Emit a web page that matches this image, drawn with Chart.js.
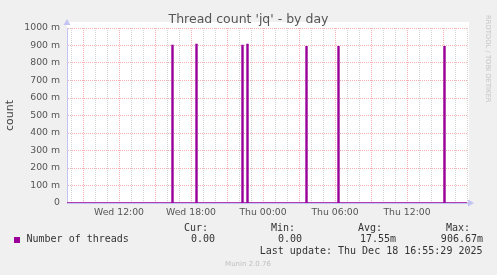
<!DOCTYPE html>
<html>
<head>
<meta charset="utf-8">
<script src="https://cdn.jsdelivr.net/npm/chart.js@4/dist/chart.umd.min.js"></script>
<style>
  html, body { margin: 0; padding: 0; background: #f0f0f0; }
  #wrap { width: 497px; height: 275px; }
</style>
</head>
<body>
<div id="wrap"><canvas id="threads" width="497" height="275"></canvas></div>
<script>
// window shown: Wed 07:40 -> Thu 17:00, one sample every 5 min
const windowStart = 'Wed 07:40'
const windowEnd = 'Thu 17:00'
const sampleMinutes = 5

// end time of each non-zero sample and its value (count)
const spikeTimes = ['Wed 16:30', 'Wed 18:30', 'Wed 22:20', 'Wed 22:45', 'Thu 03:40', 'Thu 06:20', 'Thu 15:10']
const spikeValues = [0.900, 0.9067, 0.900, 0.9067, 0.893, 0.893, 0.893]

const statLabels = ['Cur:', 'Min:', 'Avg:', 'Max:']
const statValues = ['0.00', '0.00', '17.55m', '906.67m']
const seriesName = 'Number of threads'
const lastUpdate = 'Last update: Thu Dec 18 16:55:29 2025'

const purple = '#990099'
const days = ['Wed', 'Thu']

function toMin(s) {
  const [d, hm] = s.split(' ')
  const [h, m] = hm.split(':').map(Number)
  return days.indexOf(d) * 1440 + h * 60 + m
}

const xMin = toMin(windowStart)
const xMax = toMin(windowEnd)

const points = [{ x: xMin, y: 0 }]
spikeTimes.forEach((t, i) => {
  const end = toMin(t)
  points.push({ x: end - sampleMinutes, y: 0 })
  points.push({ x: end, y: spikeValues[i] })
  points.push({ x: end, y: 0 })
})
points.push({ x: xMax, y: 0 })

const majorGrid = 'rgba(230, 90, 90, 0.48)'
const minorGrid = 'rgba(150, 150, 150, 0.42)'
const axisColor = '#c4c4f4'

const extras = {
  id: 'munin',
  beforeDraw(chart) {
    const { ctx, chartArea: a } = chart
    ctx.save()
    ctx.fillStyle = '#ffffff'
    ctx.fillRect(a.left, a.top - 6, a.right - a.left + 2, a.bottom - a.top + 6)
    ctx.restore()
  },
  afterDraw(chart) {
    const { ctx, chartArea: a } = chart
    ctx.save()
    // title
    ctx.fillStyle = '#555'
    ctx.font = '12.5px "DejaVu Sans"'
    ctx.textAlign = 'center'
    ctx.textBaseline = 'alphabetic'
    ctx.fillText("Thread count 'jq' - by day", 248.5, 23)

    // axis arrows
    ctx.fillStyle = axisColor
    ctx.beginPath()
    ctx.moveTo(a.left - 3.5, a.top - 3)
    ctx.lineTo(a.left + 3.5, a.top - 3)
    ctx.lineTo(a.left, a.top - 9)
    ctx.closePath()
    ctx.fill()
    ctx.beginPath()
    ctx.moveTo(a.right + 1, a.bottom - 3.5)
    ctx.lineTo(a.right + 1, a.bottom + 3.5)
    ctx.lineTo(a.right + 7, a.bottom)
    ctx.closePath()
    ctx.fill()

    // vertical credit
    ctx.save()
    ctx.translate(487.5, 15)
    ctx.rotate(Math.PI / 2)
    ctx.fillStyle = '#c4c4c4'
    ctx.font = '6.8px "DejaVu Sans"'
    ctx.textAlign = 'left'
    ctx.textBaseline = 'middle'
    ctx.fillText('RRDTOOL / TOBI OETIKER', 0, 0)
    ctx.restore()

    // legend
    ctx.fillStyle = purple
    ctx.fillRect(14, 237, 6, 6)
    ctx.fillStyle = '#333'
    ctx.font = '10px "DejaVu Sans Mono"'
    ctx.textBaseline = 'middle'
    ctx.textAlign = 'left'
    ctx.fillText(seriesName, 26.5, 239.5)
    ctx.textAlign = 'right'
    const labelRight = [208, 295, 382, 470]
    const valueRight = [215, 302, 396, 483]
    statLabels.forEach((s, i) => ctx.fillText(s, labelRight[i], 228))
    statValues.forEach((s, i) => ctx.fillText(s, valueRight[i], 239.5))
    ctx.fillText(lastUpdate, 482.5, 251)

    ctx.fillStyle = '#c0c0c0'
    ctx.font = '7px "DejaVu Sans"'
    ctx.textAlign = 'center'
    ctx.fillText('Munin 2.0.76', 248, 264)
    ctx.restore()
  },
}

new Chart(document.getElementById('threads'), {
  type: 'line',
  data: {
    datasets: [
      {
        label: seriesName,
        data: points,
        borderColor: purple,
        backgroundColor: purple,
        borderWidth: 1.4,
        stepped: 'after',
        pointRadius: 0,
        fill: false,
      },
    ],
  },
  options: {
    responsive: false,
    animation: false,
    devicePixelRatio: 1,
    layout: {
      padding: { left: 0, top: 28, right: 30, bottom: 0 },
    },
    scales: {
      x: {
        type: 'linear',
        min: xMin,
        max: xMax,
        afterFit(scale) {
          scale.height = 72
        },
        border: { color: axisColor, width: 1, dash: [1, 1] },
        grid: {
          drawTicks: false,
          lineWidth: 1,
          color: (c) => (c.tick && c.tick.value % 180 === 0 ? majorGrid : minorGrid),
        },
        ticks: {
          stepSize: 60,
          includeBounds: false,
          autoSkip: false,
          maxRotation: 0,
          padding: 4,
          color: '#555',
          font: { family: 'DejaVu Sans', size: 9.3 },
          callback(v) {
            if (v % 360 !== 0) return ''
            const d = days[Math.floor(v / 1440)]
            const h = Math.floor((v % 1440) / 60)
            return d + ' ' + String(h).padStart(2, '0') + ':00'
          },
        },
      },
      y: {
        min: 0,
        max: 1,
        afterFit(scale) {
          scale.width = 67
        },
        border: { color: axisColor, width: 1, dash: [1, 1] },
        grid: {
          drawTicks: false,
          lineWidth: 1,
          color: (c) => (c.tick && Math.round(c.tick.value * 1000) % 100 === 0 ? majorGrid : minorGrid),
        },
        title: {
          display: true,
          text: 'count',
          color: '#444',
          font: { family: 'DejaVu Sans', size: 11 },
          padding: { top: 4, bottom: 0 },
        },
        ticks: {
          stepSize: 0.05,
          padding: 7,
          color: '#555',
          font: { family: 'DejaVu Sans', size: 9.3 },
          callback(v) {
            const m = Math.round(v * 1000)
            if (m % 100 !== 0) return ''
            return m === 0 ? '0' : m + ' m'
          },
        },
      },
    },
    plugins: {
      legend: { display: false },
      tooltip: { enabled: false },
    },
  },
  plugins: [extras],
})
</script>
</body>
</html>
